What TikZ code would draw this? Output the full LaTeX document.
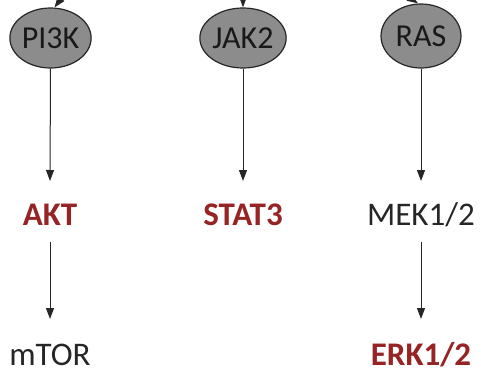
\documentclass[tikz,border=0pt]{standalone}
\usepackage{fontspec}
\setmainfont{Carlito}
\usetikzlibrary{shapes.geometric,arrows.meta}
\definecolor{darkred}{RGB}{150,36,36}
\definecolor{nodegray}{RGB}{140,140,140}
\tikzset{
  kinase/.style={ellipse, draw=black!85, line width=1.2pt, fill=nodegray, inner sep=0pt, font=\fontsize{32}{36}\selectfont, text=black!90},
  lbl/.style={font=\fontsize{33}{38}\selectfont, inner sep=0pt, text=black!85},
  hl/.style={font=\fontsize{33}{38}\selectfont\bfseries, inner sep=0pt, text=darkred},
  arr/.style={-{Triangle[length=11pt,width=8pt]}, line width=1pt, black!85}
}
\begin{document}
\begin{tikzpicture}[x=1pt,y=-1pt]
\useasboundingbox (0,0) rectangle (481,375);
\node[kinase, minimum width=76pt, minimum height=60pt] (pi3k) at (50.5,38) {PI3K};
\node[kinase, minimum width=76pt, minimum height=60pt] (jak2) at (243,38) {JAK2};
\node[kinase, minimum width=80pt, minimum height=64pt] (ras) at (421,36) {RAS};
\node[hl] (akt) at (50,215) {AKT};
\node[hl] (stat3) at (243,215) {STAT3};
\node[lbl] (mek) at (421,215) {MEK1/2};
\node[lbl] (mtor) at (50,355) {mTOR};
\node[hl] (erk) at (421,355) {ERK1/2};
\coordinate (tp) at (66,-8);
\coordinate (tj) at (243,-10);
\coordinate (tr) at (404,-6);
\coordinate (ea) at (50,181);
\coordinate (ej) at (243,181);
\coordinate (er) at (421,181);
\coordinate (sa) at (50,242);
\coordinate (sm) at (421,242);
\coordinate (em) at (50,319);
\coordinate (ee) at (421,319);
\draw[arr] (tp) -- ([xshift=4pt]pi3k.north);
\draw[arr] (tj) -- (jak2.north);
\draw[arr] (tr) -- ([xshift=-3pt]ras.north);
\draw[arr] (pi3k.south) -- (ea);
\draw[arr] (jak2.south) -- (ej);
\draw[arr] (ras.south) -- (er);
\draw[arr] (sa) -- (em);
\draw[arr] (sm) -- (ee);
\end{tikzpicture}
\end{document}
